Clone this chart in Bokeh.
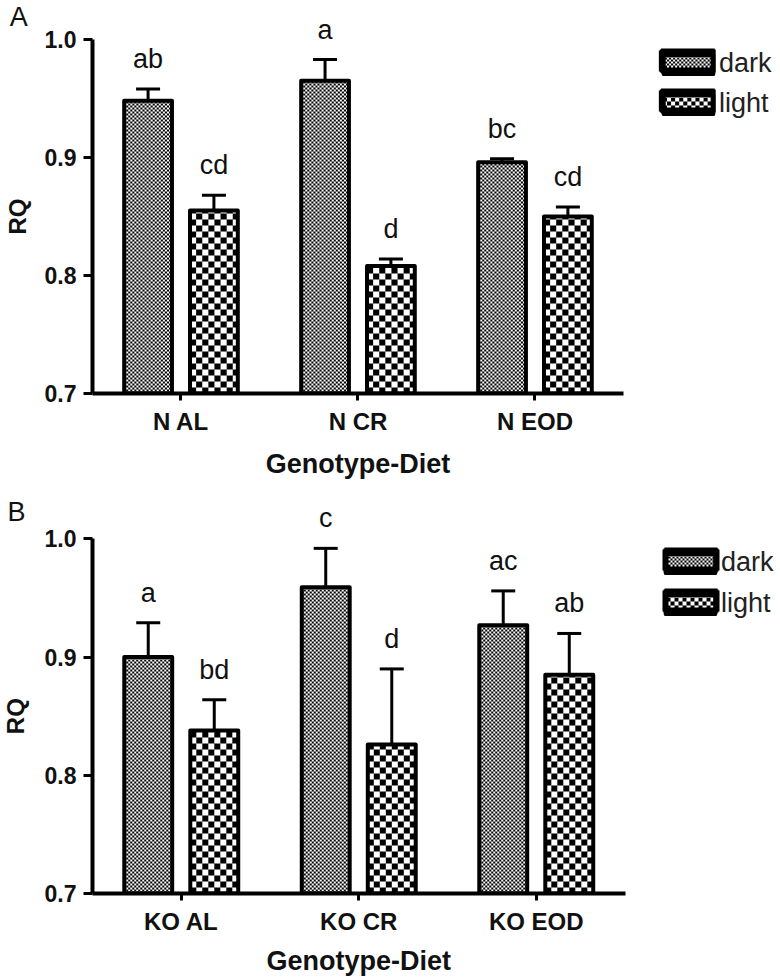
import numpy as np
from bokeh.plotting import figure
from bokeh.models import (ColumnDataSource, Range1d, FixedTicker, PrintfTickFormatter,
                          Whisker, TeeHead, Legend, LegendItem)
from bokeh.layouts import column
from bokeh.core.properties import value
from bokeh.embed import file_html
from bokeh.resources import INLINE

# ---------------- data ----------------
groups_a = ["N AL", "N CR", "N EOD"]
dark_a = [0.948, 0.965, 0.896]
dark_a_err = [0.010, 0.018, 0.003]
light_a = [0.855, 0.808, 0.850]
light_a_err = [0.013, 0.006, 0.008]
dark_a_sig = ["ab", "a", "bc"]
light_a_sig = ["cd", "d", "cd"]

groups_b = ["KO AL", "KO CR", "KO EOD"]
dark_b = [0.900, 0.959, 0.927]
dark_b_err = [0.029, 0.033, 0.029]
light_b = [0.838, 0.826, 0.885]
light_b_err = [0.026, 0.064, 0.035]
dark_b_sig = ["a", "c", "ac"]
light_b_sig = ["bd", "d", "ab"]

series = ["dark", "light"]
y_ticks = [0.7, 0.8, 0.9, 1.0]
x_title = "Genotype-Diet"
y_title = "RQ"
panel_letters = ["A", "B"]

FONT_NAME = "Liberation Sans"
FONT = value(FONT_NAME)
FIG_W = 780
PX_X = 177.5
BAR_W = 0.27
OFFS = [-0.186, 0.186]
CELLS = [2, 6]          # checkerboard cell size (px) for dark / light bar fill
SW_CELLS = [2, 4]       # checkerboard cell size (px) in legend swatches
TXT = "#111111"
BASE_FIX = 9            # px correction for text baseline placement


def checker(h, w, cell, border=0):
    yy, xx = np.indices((h, w))
    black = ((yy // cell) + (xx // cell)) % 2 == 0
    if border:
        black |= (yy < border) | (yy >= h - border) | (xx < border) | (xx >= w - border)
        for cy in (0, h - 1):
            for cx in (0, w - 1):
                black[cy, cx] = False
                black[cy, cx + (1 if cx == 0 else -1)] = False
                black[cy + (1 if cy == 0 else -1), cx] = False
    img = np.empty((h, w), dtype=np.uint32)
    v = img.view(dtype=np.uint8).reshape((h, w, 4))
    c = np.where(black, 0, 255).astype(np.uint8)
    v[..., 0] = c
    v[..., 1] = c
    v[..., 2] = c
    v[..., 3] = 255
    return img


def panel(letter, groups, vals, errs, sigs, height, left, bottom, px_y,
          leg_vx, leg_vy, leg_spacing, letter_rise, xtitle_drop):
    frame_w = FIG_W - left
    frame_h = height - bottom
    y_end = 0.7 + frame_h / px_y
    p = figure(width=FIG_W, height=height, x_range=Range1d(0, frame_w / PX_X),
               y_range=Range1d(0.7, y_end), output_backend="svg", toolbar_location=None,
               min_border_left=left, min_border_right=0, min_border_top=0,
               min_border_bottom=bottom, outline_line_color=None,
               background_fill_color="white", border_fill_color="white")
    p.grid.visible = False

    bw_px = int(round(BAR_W * PX_X))
    renderers = []
    for i in range(2):
        v = np.array(vals[i])
        e = np.array(errs[i])
        xs = np.arange(len(groups)) + 0.5 + OFFS[i]
        src = ColumnDataSource(dict(x=xs, top=v, upper=v + e,
                                    ly=v + e + (21 + BASE_FIX) / px_y, sig=sigs[i]))
        # checkerboard texture under each bar
        hs = [int(round((t - 0.7) * px_y)) for t in v]
        img_src = ColumnDataSource(dict(
            image=[checker(h, bw_px, CELLS[i]) for h in hs],
            ix=xs - bw_px / PX_X / 2, iy=[0.7] * len(xs),
            dw=[bw_px / PX_X] * len(xs), dh=[h / px_y for h in hs]))
        p.image_rgba(image="image", x="ix", y="iy", dw="dw", dh="dh", source=img_src)

        w = Whisker(source=src, base="x", lower="top", upper="upper", dimension="height",
                    line_width=3, line_color="black",
                    upper_head=TeeHead(size=24, line_width=3, line_color="black"),
                    lower_head=None)
        p.add_layout(w)
        r = p.vbar(x="x", top="top", bottom=0.7, width=BAR_W, source=src,
                   fill_color=None, line_color="black", line_width=4, line_join="round")
        renderers.append(r)
        p.text(x="x", y="ly", text="sig", source=src, text_font=FONT, text_font_size="27px",
               text_align="center", text_baseline="alphabetic", text_color=TXT)

    # legend: swatch textures (with their thick black frame) under the legend glyph rects
    gw, gh, item_h = 62, 24, 31
    sw_w, sw_h = 57, 25
    leg_top = frame_h - leg_vy - (2 * item_h + leg_spacing)
    for i in range(2):
        sw_top = leg_top + i * (item_h + leg_spacing)
        p.image_rgba(image=[checker(sw_h, sw_w, SW_CELLS[i], border=6)],
                     x=[(leg_vx + gw - 59) / PX_X], y=[0.7 + (frame_h - sw_top - sw_h) / px_y],
                     dw=[sw_w / PX_X], dh=[sw_h / px_y])
    legend = Legend(items=[LegendItem(label=series[i], renderers=[renderers[i]]) for i in range(2)],
                    location=(leg_vx, leg_vy), glyph_width=gw, glyph_height=gh,
                    label_height=item_h, spacing=leg_spacing, padding=0, margin=0,
                    label_standoff=0, border_line_color=None, background_fill_alpha=0,
                    label_text_font=FONT_NAME, label_text_font_size="27px",
                    label_text_color="#222222")
    p.add_layout(legend)

    # axes
    xa = p.xaxis[0]
    xa.bounds = (0, len(groups))
    xa.ticker = FixedTicker(ticks=list(np.arange(len(groups)) + 0.5))
    xa.major_label_overrides = {float(k + 0.5): g for k, g in enumerate(groups)}
    xa.axis_line_width = 4
    xa.major_tick_line_width = 3
    xa.major_tick_out = 7
    xa.major_tick_in = 0
    xa.minor_tick_line_color = None
    xa.major_label_text_font = FONT_NAME
    xa.major_label_text_font_size = "24px"
    xa.major_label_text_font_style = "bold"
    xa.major_label_text_color = TXT
    xa.major_label_standoff = 7

    ya = p.yaxis[0]
    ya.bounds = (0.7, 1.0)
    ya.ticker = FixedTicker(ticks=y_ticks)
    ya.formatter = PrintfTickFormatter(format="%.1f")
    ya.axis_line_width = 4
    ya.major_tick_line_width = 3
    ya.major_tick_out = 9
    ya.major_tick_in = 0
    ya.minor_tick_line_color = None
    ya.major_label_text_font = FONT_NAME
    ya.major_label_text_font_size = "23px"
    ya.major_label_text_font_style = "bold"
    ya.major_label_text_color = TXT
    ya.major_label_standoff = 7

    # titles and panel letter (overlay level: drawn outside the frame)
    p.text(x=[len(groups) / 2], y=[0.7 - (xtitle_drop - BASE_FIX) / px_y], text=[x_title],
           text_align="center", text_baseline="alphabetic", text_font=FONT,
           text_font_size="27px", text_font_style="bold", text_color=TXT, level="overlay")
    p.text(x=[(15 - left) / PX_X], y=[0.85], text=[y_title], angle=np.pi / 2,
           text_align="center", text_baseline="middle", text_font=FONT,
           text_font_size="24px", text_font_style="bold", text_color=TXT, level="overlay")
    p.text(x=[(7 - left) / PX_X], y=[1.0 + (letter_rise + BASE_FIX) / px_y], text=[letter],
           text_align="left", text_baseline="alphabetic", text_font=FONT,
           text_font_size="27px", text_color=TXT, level="overlay")
    return p


pA = panel(panel_letters[0], groups_a, [dark_a, light_a], [dark_a_err, light_a_err],
           [dark_a_sig, light_a_sig], height=485, left=90, bottom=92, px_y=1180,
           leg_vx=565, leg_vy=274, leg_spacing=9, letter_rise=14, xtitle_drop=79)
pB = panel(panel_letters[1], groups_b, [dark_b, light_b], [dark_b_err, light_b_err],
           [dark_b_sig, light_b_sig], height=491, left=92, bottom=83, px_y=1182,
           leg_vx=567, leg_vy=274, leg_spacing=10, letter_rise=18, xtitle_drop=76)

layout = column(pA, pB, spacing=0)
open("out.html", "w").write(file_html(layout, INLINE))
